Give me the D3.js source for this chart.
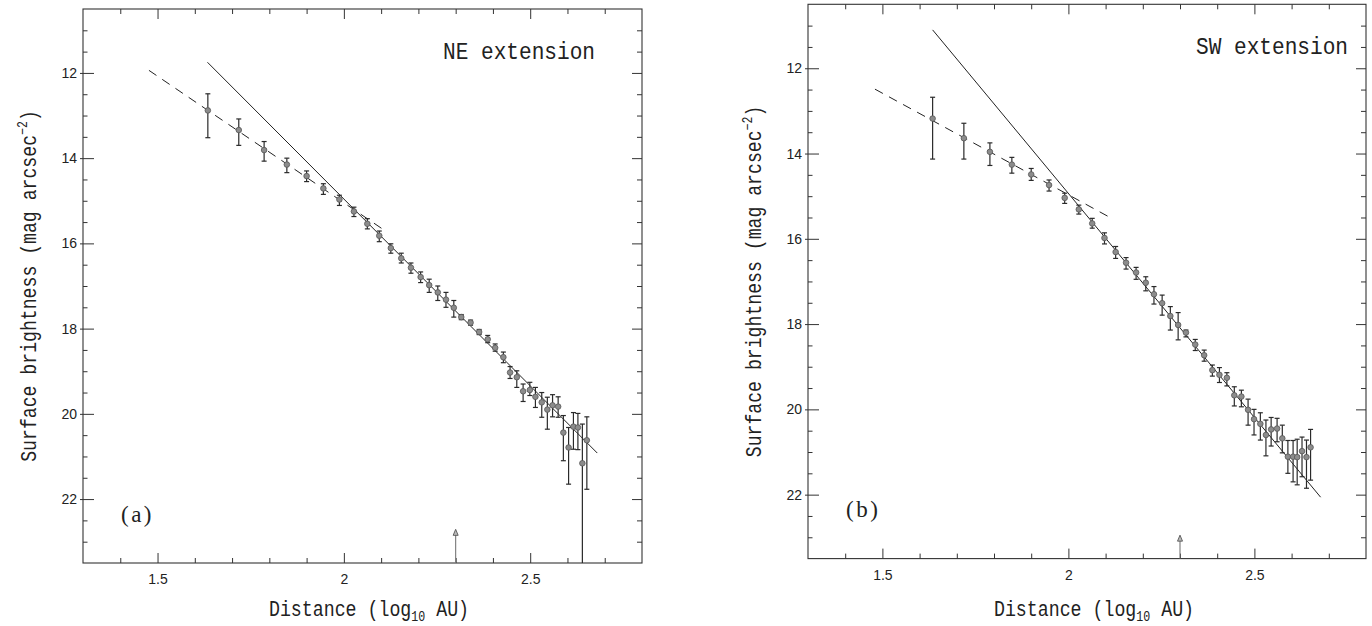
<!DOCTYPE html>
<html>
<head>
<meta charset="utf-8">
<script src="https://cdn.jsdelivr.net/npm/d3@7"></script>
<style>
  html, body { margin: 0; padding: 0; background: #fff; }
  svg { display: block; }
</style>
</head>
<body>
<svg id="chart" width="1372" height="626"></svg>
<script>
// ---------------- data ----------------
const xDomain = [1.3, 2.8];
const yDomain = [10.5, 23.5];
const xTickLabels = [1.5, 2, 2.5];
const yTickLabels = [12, 14, 16, 18, 20, 22];

// NE extension (panel a)
const neX = [1.635,1.718,1.786,1.847,1.900,1.945,1.988,2.027,2.063,2.095,2.126,2.154,2.180,2.206,2.229,2.252,2.274,2.295,2.315,2.340,2.363,2.386,2.406,2.428,2.446,2.464,2.481,2.499,2.514,2.531,2.546,2.560,2.575,2.589,2.603,2.616,2.628,2.640,2.652];
const neY = [12.88,13.34,13.81,14.15,14.42,14.71,14.97,15.25,15.54,15.82,16.11,16.35,16.57,16.79,16.98,17.15,17.32,17.51,17.73,17.86,18.08,18.25,18.45,18.67,19.03,19.14,19.47,19.44,19.60,19.73,19.90,19.80,19.83,20.44,20.79,20.30,20.32,21.16,20.62];
const neErrTop = [12.49,13.08,13.61,14.00,14.30,14.60,14.87,15.15,15.42,15.71,16.01,16.23,16.46,16.67,16.84,17.00,17.15,17.34,17.67,17.80,18.02,18.16,18.36,18.55,18.89,18.99,19.30,19.26,19.38,19.50,19.61,19.55,19.60,20.04,20.32,19.97,19.99,20.24,20.07];
const neErrBottom = [13.52,13.70,14.07,14.34,14.55,14.85,15.11,15.37,15.66,15.96,16.23,16.46,16.70,16.92,17.15,17.34,17.50,17.73,17.79,17.92,18.14,18.33,18.53,18.80,19.17,19.38,19.71,19.57,19.85,20.08,20.36,20.07,20.08,21.10,21.65,20.83,20.84,23.50,21.77];
const neSolidX = [1.634, 2.680], neSolidY = [11.75, 20.92];
const neDashX = [1.477, 2.110], neDashY = [11.94, 15.70];
const neArrow = [2.3, 22.71];

// SW extension (panel b)
const swX = [1.635,1.719,1.789,1.848,1.900,1.948,1.990,2.028,2.064,2.097,2.127,2.155,2.182,2.208,2.230,2.252,2.274,2.295,2.316,2.341,2.365,2.387,2.406,2.426,2.446,2.465,2.483,2.499,2.516,2.531,2.545,2.561,2.575,2.590,2.604,2.615,2.628,2.640,2.651];
const swY = [13.18,13.64,13.96,14.26,14.49,14.74,15.04,15.31,15.64,15.98,16.31,16.56,16.79,17.03,17.30,17.51,17.81,18.02,18.20,18.48,18.73,19.08,19.19,19.26,19.67,19.70,20.01,20.23,20.34,20.60,20.47,20.45,20.68,21.11,21.11,21.12,20.98,21.12,20.89];
const swErrTop = [12.68,13.29,13.75,14.09,14.35,14.62,14.93,15.21,15.52,15.86,16.18,16.44,16.67,16.89,17.12,17.32,17.59,17.73,18.14,18.36,18.61,18.96,19.02,19.14,19.47,19.55,19.76,20.00,20.08,20.25,20.19,20.21,20.37,20.73,20.73,20.70,20.65,20.72,20.47];
const swErrBottom = [14.13,14.13,14.28,14.46,14.63,14.88,15.17,15.42,15.75,16.12,16.46,16.71,16.95,17.22,17.53,17.79,18.14,18.37,18.30,18.62,18.87,19.22,19.37,19.45,19.92,19.94,20.37,20.60,20.72,21.09,20.86,20.76,21.02,21.50,21.70,21.77,21.58,21.85,21.66];
const swSolidX = [1.635, 2.678], swSolidY = [11.10, 22.06];
const swDashX = [1.480, 2.112], swDashY = [12.49, 15.50];
const swArrow = [2.3, 22.95];

// ---------------- drawing ----------------
const svg = d3.select("#chart");
svg.append("rect").attr("width", 1372).attr("height", 626).attr("fill", "#fff");

const MONO = "'Liberation Mono', 'DejaVu Sans Mono', monospace";
const SANS = "'Liberation Sans', Arial, sans-serif";
const SERIF = "'Liberation Serif', 'Times New Roman', serif";

function drawPanel(cfg) {
  const x = d3.scaleLinear().domain(xDomain).range([cfg.x0, cfg.x1]);
  const y = d3.scaleLinear().domain(yDomain).range([cfg.y0, cfg.y1]);
  const g = svg.append("g");

  const minorX = d3.range(14, 28).map(d => d / 10).filter(v => !xTickLabels.some(m => Math.abs(m - v) < 1e-9));
  const minorY = d3.range(22, 47).map(d => d / 2).filter(v => !yTickLabels.includes(v));

  function clean(sel) { sel.select(".domain").remove(); sel.selectAll(".tick line").attr("stroke", "#333").attr("stroke-width", 1); }

  // bottom
  g.append("g").attr("transform", `translate(0,${cfg.y1})`)
    .call(d3.axisBottom(x).tickValues(minorX).tickSize(-5).tickFormat("")).call(clean);
  const bx = g.append("g").attr("transform", `translate(0,${cfg.y1})`)
    .call(d3.axisBottom(x).tickValues(xTickLabels).tickSize(-10).tickPadding(11).tickFormat(d3.format("")));
  clean(bx);
  bx.selectAll("text").attr("font-family", SANS).attr("font-size", 14).attr("fill", "#222");
  // top
  g.append("g").attr("transform", `translate(0,${cfg.y0})`)
    .call(d3.axisTop(x).tickValues(minorX).tickSize(-5).tickFormat("")).call(clean);
  g.append("g").attr("transform", `translate(0,${cfg.y0})`)
    .call(d3.axisTop(x).tickValues(xTickLabels).tickSize(-10).tickFormat("")).call(clean);
  // left
  g.append("g").attr("transform", `translate(${cfg.x0},0)`)
    .call(d3.axisLeft(y).tickValues(minorY).tickSize(-4.5).tickFormat("")).call(clean);
  const ly = g.append("g").attr("transform", `translate(${cfg.x0},0)`)
    .call(d3.axisLeft(y).tickValues(yTickLabels).tickSize(-11).tickPadding(6).tickFormat(d3.format("")));
  clean(ly);
  ly.selectAll(".tick line").attr("x1", -3);
  ly.selectAll("text").attr("font-family", SANS).attr("font-size", 14).attr("fill", "#222");
  // right
  g.append("g").attr("transform", `translate(${cfg.x1},0)`)
    .call(d3.axisRight(y).tickValues(minorY).tickSize(-5).tickFormat("")).call(clean);
  g.append("g").attr("transform", `translate(${cfg.x1},0)`)
    .call(d3.axisRight(y).tickValues(yTickLabels).tickSize(-10).tickFormat("")).call(clean);

  // frame
  g.append("rect").attr("x", cfg.x0).attr("y", cfg.y0)
    .attr("width", cfg.x1 - cfg.x0).attr("height", cfg.y1 - cfg.y0)
    .attr("fill", "none").attr("stroke", "#333").attr("stroke-width", 1.1);

  const line = d3.line().x(d => x(d[0])).y(d => y(d[1]));
  // fit lines
  g.append("path").datum(d3.zip(cfg.solidX, cfg.solidY)).attr("d", line)
    .attr("fill", "none").attr("stroke", "#222").attr("stroke-width", 1);
  g.append("path").datum(d3.zip(cfg.dashX, cfg.dashY)).attr("d", line)
    .attr("fill", "none").attr("stroke", "#222").attr("stroke-width", 1).attr("stroke-dasharray", "9,7");

  // error bars
  const pts = cfg.px.map((v, i) => ({ x: v, y: cfg.py[i], t: cfg.et[i], b: cfg.eb[i] }));
  const eg = g.append("g").attr("stroke", "#2a2a2a").attr("stroke-width", 1.2).attr("fill", "none");
  pts.forEach(p => {
    const cx = x(p.x), yb = Math.min(y(p.b), cfg.y1);
    eg.append("line").attr("x1", cx).attr("x2", cx).attr("y1", y(p.t)).attr("y2", yb);
    eg.append("line").attr("x1", cx - 2.5).attr("x2", cx + 2.5).attr("y1", y(p.t)).attr("y2", y(p.t));
    if (y(p.b) < cfg.y1 - 1) eg.append("line").attr("x1", cx - 2.5).attr("x2", cx + 2.5).attr("y1", y(p.b)).attr("y2", y(p.b));
  });
  // points
  g.append("g").selectAll("circle").data(pts).join("circle")
    .attr("cx", d => x(d.x)).attr("cy", d => y(d.y)).attr("r", 2.8)
    .attr("fill", "#8c8c8c").attr("stroke", "#555").attr("stroke-width", 0.8);

  // arrow at 2.3
  const ax = x(cfg.arrow[0]), at = y(cfg.arrow[1]);
  g.append("line").attr("x1", ax).attr("x2", ax).attr("y1", cfg.y1).attr("y2", at + 5)
    .attr("stroke", "#777").attr("stroke-width", 1.1);
  g.append("path").attr("d", `M${ax},${at} L${ax - 2.5},${at + 6} L${ax + 2.5},${at + 6} Z`)
    .attr("fill", "#bbb").attr("stroke", "#555").attr("stroke-width", 0.9);

  // title
  g.append("text").attr("x", cfg.x0 + cfg.titleDx).attr("y", cfg.y0 + cfg.titleDy)
    .attr("font-family", MONO).attr("font-size", 24).attr("fill", "#222")
    .attr("textLength", 152).attr("lengthAdjust", "spacingAndGlyphs")
    .text(cfg.title);
  // panel letter
  g.append("text").attr("x", cfg.x0 + 38).attr("y", cfg.y0 + 513)
    .attr("font-family", SERIF).attr("font-size", 23).attr("letter-spacing", 2.5).attr("fill", "#222")
    .text(cfg.letter);

  // x label
  const xl = g.append("text")
    .attr("transform", `translate(${cfg.x0 + 286},616) scale(0.83,1)`)
    .attr("text-anchor", "middle")
    .attr("font-family", MONO).attr("font-size", 22).attr("fill", "#222");
  xl.append("tspan").text("Distance (log");
  xl.append("tspan").attr("font-size", 14).attr("dy", 5).text("10");
  xl.append("tspan").attr("dy", -5).text(" AU)");

  // y label
  const cy = (cfg.y0 + cfg.y1) / 2;
  const yl = g.append("text")
    .attr("transform", `translate(${cfg.x0 - 47},${cy}) rotate(-90) scale(0.826,1)`)
    .attr("text-anchor", "middle")
    .attr("font-family", MONO).attr("font-size", 22).attr("fill", "#222");
  yl.append("tspan").text("Surface brightness (mag arcsec");
  yl.append("tspan").attr("font-size", 14).attr("dy", -9).text("\u22122");
  yl.append("tspan").attr("dy", 9).text(")");
}

drawPanel({
  x0: 83, x1: 642, y0: 9, y1: 563,
  px: neX, py: neY, et: neErrTop, eb: neErrBottom,
  solidX: neSolidX, solidY: neSolidY, dashX: neDashX, dashY: neDashY,
  arrow: neArrow, title: "NE extension", letter: "(a)", titleDx: 360, titleDy: 50
});
drawPanel({
  x0: 808, x1: 1366, y0: 4.3, y1: 558.6,
  px: swX, py: swY, et: swErrTop, eb: swErrBottom,
  solidX: swSolidX, solidY: swSolidY, dashX: swDashX, dashY: swDashY,
  arrow: swArrow, title: "SW extension", letter: "(b)", titleDx: 388, titleDy: 50
});
</script>
</body>
</html>
